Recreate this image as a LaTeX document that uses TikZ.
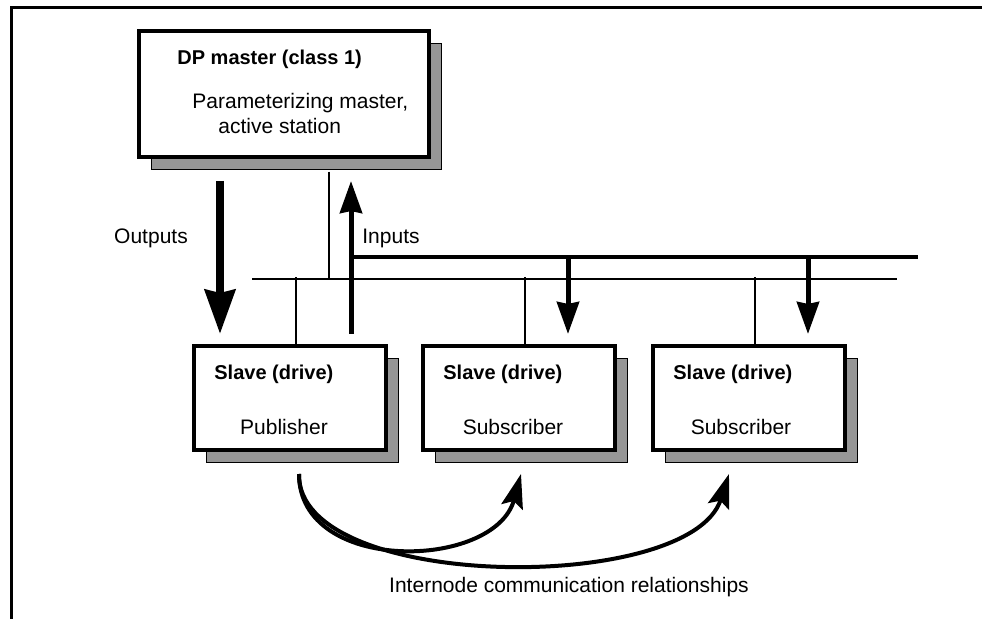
\documentclass[tikz,border=0pt]{standalone}
\usepackage{fontspec}
\setmainfont{Liberation Sans}
\usetikzlibrary{arrows.meta,shadows}
\definecolor{shadowgray}{RGB}{150,150,150}

\begin{document}
\begin{tikzpicture}[x=0.5pt,y=-0.5pt,
    font=\fontsize{10.5pt}{12.6pt}\selectfont,
    box/.style={draw,line width=1.6pt,fill=white,inner sep=0pt,
        drop shadow={shadow xshift=6pt,shadow yshift=-6pt,fill=shadowgray,
            draw=black,line width=0.4pt,opacity=1}},
    txt/.style={inner sep=0pt,anchor=base west},
    thin/.style={line width=1pt},
    bigarrow/.style={line width=2.5pt,-{Stealth[length=16pt,width=11pt,inset=1pt]}},
    curvearrow/.style={line width=2pt,-{Stealth[length=17pt,width=11pt,inset=3pt]}}]
    \useasboundingbox (0,0) rectangle (982,619);
    \draw[line width=1.5pt] (11,619) -- (11,8) -- (982,8);

    \node[box,minimum width=145pt,minimum height=63pt] (master) at (284,94) {};
    \node[txt,font=\bfseries] (mtitle) at (177,65) {DP master (class 1)};
    \node[txt] (mline1) at (192,109) {Parameterizing master,};
    \node[txt] (mline2) at (218,134) {active station};

    \foreach \n/\x/\t/\dx in {s1/290/Publisher/-6,s2/519/Subscriber/-6,s3/749/Subscriber/-8} {
        \node[box,minimum width=96pt,minimum height=52pt] (\n) at (\x,398) {};
        \node[txt,font=\bfseries] (\n title) at ({\x-76},380) {Slave (drive)};
        \node[inner sep=0pt,anchor=base] (\n role) at ({\x+\dx},435) {\t};
    }

    \coordinate (busL) at (252,279);
    \coordinate (busR) at (897,279);
    \coordinate (inL) at (351,257);
    \coordinate (inR) at (918,257);
    \draw[thin] (busL) -- (busR);
    \draw[thin] ([xshift=22.5pt,yshift=-6.5pt]master.south) -- (329,279);
    \foreach \n in {s1,s2,s3}
        \draw[thin] ([xshift=3pt]\n.north) -- ++(0,-67);

    \coordinate (outTop) at (220,181);
    \coordinate (outTip) at (220,334);
    \draw[line width=4pt,-{Stealth[length=22pt,width=15pt,inset=1.5pt]}] (outTop) -- (outTip);
    \node[inner sep=0pt,anchor=base] (outputs) at (151,244) {Outputs};

    \coordinate (inBot) at (351,334);
    \coordinate (inTip) at (351,181);
    \draw[bigarrow] (inBot) -- (inTip);
    \draw[line width=2pt] (inL) -- (inR);
    \node[txt] (inputs) at (362,244) {Inputs};
    \coordinate (d2) at (568,257);
    \coordinate (d3) at (808,257);
    \draw[bigarrow] (d2) -- ++(0,77);
    \draw[bigarrow] (d3) -- ++(0,77);

    \coordinate (pubout) at (299,474);
    \coordinate (sub1in) at (521,474);
    \coordinate (sub2in) at (729,474);
    \draw[curvearrow] (pubout) .. controls (299,575) and (495,570) .. (sub1in);
    \draw[curvearrow] (pubout) .. controls (297,592) and (690,595) .. (sub2in);
    \node[inner sep=0pt,anchor=base] (internode) at (569,593) {Internode communication relationships};
\end{tikzpicture}
\end{document}
